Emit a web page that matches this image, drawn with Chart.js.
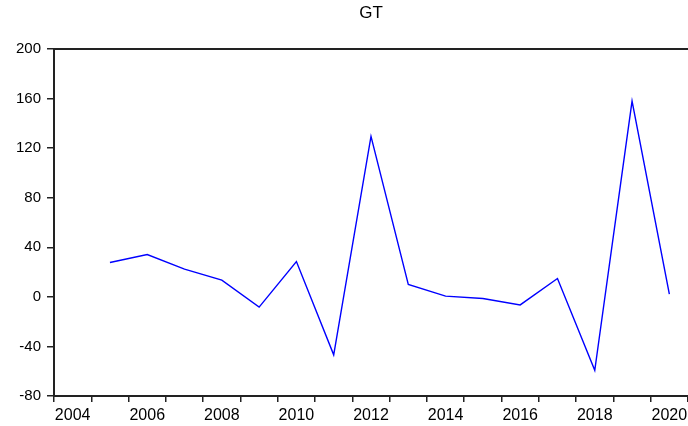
<!DOCTYPE html>
<html>
<head>
<meta charset="utf-8">
<script src="https://cdn.jsdelivr.net/npm/chart.js@4"></script>
<style>
  body { margin: 0; background: #fff; }
  #wrap { width: 688px; height: 426px; position: relative; }
</style>
</head>
<body>
<div id="wrap"><canvas id="gtChart"></canvas></div>
<script>
// years on the axis (2004 has no value)
var years = ["2004", "2005", "2006", "2007", "2008", "2009", "2010", "2011", "2012",
             "2013", "2014", "2015", "2016", "2017", "2018", "2019", "2020"];
var gtValues = [null, 27.7, 34.2, 22.4, 13.5, -8.3, 28.5, -46.8, 129.5,
                10, 0.6, -1.3, -6.5, 14.8, -59.2, 158, 2.2];
var yTicks = [-80, -40, 0, 40, 80, 120, 160, 200];
var chartTitle = "GT";

var fontFam = "'Liberation Sans', Arial, sans-serif";

// title centred over the plot area + top frame line
var framePlugin = {
    id: "frame",
    afterDraw: function (chart) {
        var ctx = chart.ctx;
        var a = chart.chartArea;
        ctx.save();
        ctx.strokeStyle = "#222";
        ctx.lineWidth = 2;
        ctx.beginPath();
        ctx.moveTo(a.left, a.top);
        ctx.lineTo(a.right, a.top);
        ctx.stroke();
        ctx.fillStyle = "#000";
        ctx.font = "17px " + fontFam;
        ctx.textAlign = "center";
        ctx.textBaseline = "middle";
        ctx.fillText(chartTitle, (a.left + a.right) / 2, 13);
        ctx.restore();
    }
};

var ctx = document.getElementById("gtChart");
var gtChart = new Chart(ctx, {
    type: "line",
    data: {
        labels: years,
        datasets: [{
            data: gtValues,
            borderColor: "#0000ff",
            borderWidth: 1.4,
            pointRadius: 0,
            tension: 0,
            fill: false
        }]
    },
    options: {
        responsive: true,
        maintainAspectRatio: false,
        animation: false,
        layout: { padding: { top: 49, right: 0, bottom: 0, left: 0 } },
        plugins: {
            legend: { display: false },
            tooltip: { enabled: false },
            title: { display: false }
        },
        scales: {
            x: {
                type: "category",
                offset: true,
                afterFit: function (s) {
                    s.height = 30;
                    s.paddingLeft = 0;
                    s.paddingRight = 0;
                },
                border: { display: true, color: "#222", width: 2 },
                grid: {
                    offset: true,
                    drawOnChartArea: false,
                    drawTicks: true,
                    tickLength: 6,
                    color: "#222",
                    lineWidth: 1.5
                },
                ticks: {
                    autoSkip: false,
                    maxRotation: 0,
                    padding: 4,
                    color: "#000",
                    font: { family: fontFam, size: 16 },
                    callback: function (val, i) {
                        return i % 2 === 0 ? years[i] : "";
                    }
                }
            },
            y: {
                min: yTicks[0],
                max: yTicks[yTicks.length - 1],
                afterFit: function (s) { s.width = 54; },
                afterBuildTicks: function (s) {
                    s.ticks = yTicks.map(function (v) { return { value: v }; });
                },
                border: { display: true, color: "#222", width: 2 },
                grid: {
                    drawOnChartArea: false,
                    drawTicks: true,
                    tickLength: 7,
                    color: "#222",
                    lineWidth: 1.5
                },
                ticks: {
                    padding: 6,
                    color: "#000",
                    font: { family: fontFam, size: 15 }
                }
            }
        }
    },
    plugins: [framePlugin]
});
</script>
</body>
</html>
